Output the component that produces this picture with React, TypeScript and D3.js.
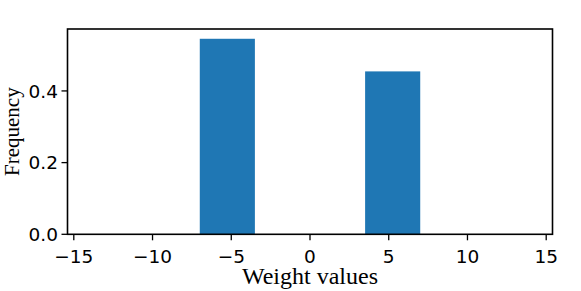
import React from 'react';
import * as d3 from 'd3';

// histogram bins (edges) and frequencies
const binEdges = [-14, -10.5, -7, -3.5, 0, 3.5, 7, 10.5, 14];
const frequencies = [0, 0, 0.5455, 0, 0, 0.4545, 0, 0];
const xTicks = [-15, -10, -5, 0, 5, 10, 15];
const yTicks = [0, 0.2, 0.4];

const W = 581;
const H = 291;
const margin = { left: 67.5, right: 28.5, top: 29, bottom: 56.7 };

const App = () => {
  const x = d3
    .scaleLinear()
    .domain([-15.4, 15.4])
    .range([margin.left, W - margin.right]);
  const yMax = d3.max(frequencies) * 1.05;
  const y = d3
    .scaleLinear()
    .domain([0, yMax])
    .range([H - margin.bottom, margin.top]);

  const bins = frequencies.map((f, i) => ({ x0: binEdges[i], x1: binEdges[i + 1], f }));
  const x0 = margin.left;
  const x1 = W - margin.right;
  const y0 = H - margin.bottom;
  const y1 = margin.top;

  return (
    <svg width={W} height={H} style={{ position: 'absolute', left: 0, top: 0 }}>
      <rect width={W} height={H} fill="#fff" />
      {bins.map((b, i) => (
        <rect
          key={i}
          x={x(b.x0)}
          y={y(b.f)}
          width={x(b.x1) - x(b.x0)}
          height={y(0) - y(b.f)}
          fill="#1f77b4"
        />
      ))}
      <rect
        x={x0}
        y={y1}
        width={x1 - x0}
        height={y0 - y1}
        fill="none"
        stroke="#000"
        strokeWidth={1.6}
      />
      {xTicks.map(t => (
        <g key={t} transform={`translate(${x(t)}, ${y0})`}>
          <line y1={0} y2={6} stroke="#000" strokeWidth={1.3} />
          <text
            y={29}
            textAnchor="middle"
            fontFamily="DejaVu Sans"
            fontSize={18.5}
            fill="#000"
          >
            {t < 0 ? `\u2212${Math.abs(t)}` : t}
          </text>
        </g>
      ))}
      {yTicks.map(t => (
        <g key={t} transform={`translate(${x0}, ${y(t)})`}>
          <line x1={0} x2={-6} stroke="#000" strokeWidth={1.3} />
          <text
            x={-9.5}
            dy="0.36em"
            textAnchor="end"
            fontFamily="DejaVu Sans"
            fontSize={18.5}
            fill="#000"
          >
            {t.toFixed(1)}
          </text>
        </g>
      ))}
      <text
        x={(x0 + x1) / 2}
        y={284}
        textAnchor="middle"
        fontFamily="Liberation Serif"
        fontSize={24}
        fill="#000"
      >
        Weight values
      </text>
      <text
        transform={`translate(19, ${(y0 + y1) / 2}) rotate(-90)`}
        textAnchor="middle"
        fontFamily="Liberation Serif"
        fontSize={21}
        fill="#000"
      >
        Frequency
      </text>
    </svg>
  );
};

export default App;
